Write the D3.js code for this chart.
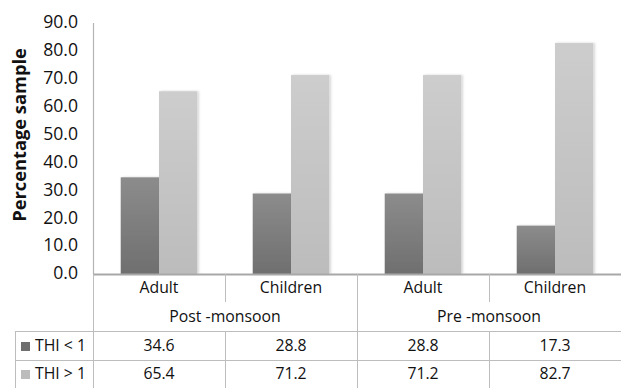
<!DOCTYPE html>
<html>
<head>
<meta charset="utf-8">
<script src="https://cdn.jsdelivr.net/npm/d3@7"></script>
<style>
  html, body { margin: 0; padding: 0; background: #fff; }
  svg { display: block; font-family: "Open Sans", Lato, sans-serif; }
</style>
</head>
<body>
<svg id="chart" width="621" height="388"></svg>
<script>
// Data
const groups = ["Post -monsoon", "Pre -monsoon"];
const categories = ["Adult", "Children", "Adult", "Children"];
const categoryGroup = [0, 0, 1, 1];
const seriesNames = ["THI < 1", "THI > 1"];
const thiBelow = [34.6, 28.8, 28.8, 17.3];
const thiAbove = [65.4, 71.2, 71.2, 82.7];
const yTicks = [0, 10, 20, 30, 40, 50, 60, 70, 80, 90];

const series = [thiBelow, thiAbove];
const svg = d3.select("#chart");

const plotLeft = 93, plotRight = 621, plotTop = 22.5, plotBottom = 274;
const x = d3.scaleBand().domain(d3.range(categories.length)).range([plotLeft, plotRight]);
const y = d3.scaleLinear().domain([0, 90]).range([plotBottom, plotTop]);
const barW = x.bandwidth() * 0.29;
const xs = d3.scaleBand().domain([0, 1]).range([0, barW * 2]).padding(0);

// Gradients for bar fills
const defs = svg.append("defs");
const fills = [["#8c8c8c", "#6f6f6f"], ["#cdcdcd", "#bcbcbc"]];
fills.forEach((c, i) => {
  const g = defs.append("linearGradient").attr("id", "g" + i)
    .attr("x1", 0).attr("y1", 0).attr("x2", 0).attr("y2", 1);
  g.append("stop").attr("offset", 0).attr("stop-color", c[0]);
  g.append("stop").attr("offset", 1).attr("stop-color", c[1]);
});
const shadow = defs.append("filter").attr("id", "sh").attr("x", "-20%").attr("y", "-5%").attr("width", "140%").attr("height", "110%");
shadow.append("feDropShadow").attr("dx", 1.5).attr("dy", 0).attr("stdDeviation", 1)
  .attr("flood-color", "#000").attr("flood-opacity", 0.18);

// Y axis
const yAxis = d3.axisLeft(y).tickValues(yTicks).tickFormat(d3.format(".1f")).tickSize(0).tickPadding(15);
const ya = svg.append("g").attr("transform", `translate(${plotLeft},0)`).call(yAxis);
ya.select(".domain").attr("stroke", "#b4b4b4").attr("stroke-width", 1.2);
ya.selectAll("text").attr("font-size", 17.6).attr("fill", "#111").attr("dy", "0.28em")
  .attr("font-family", "\"Open Sans\", sans-serif");

svg.append("text")
  .attr("transform", `translate(25.5,135) rotate(-90)`)
  .attr("text-anchor", "middle").attr("font-size", 18.3).attr("font-weight", "bold").attr("fill", "#111")
  .attr("font-family", "\"Open Sans\", sans-serif")
  .text("Percentage sample");

// Bars
series.forEach((vals, si) => {
  svg.append("g").selectAll("rect").data(vals).join("rect")
    .attr("x", (d, i) => x(i) + (x.bandwidth() - barW * 2) / 2 + xs(si))
    .attr("y", d => y(d))
    .attr("width", xs.bandwidth())
    .attr("height", d => plotBottom - y(d))
    .attr("fill", `url(#g${si})`)
    .attr("filter", "url(#sh)");
});

// Data table below the plot
const lineColor = "#bdbdbd";
const rowCat = 288, rowGroup = 317, rowLine1 = 331.5, rowLine2 = 360.5;
const rowVals = [346, 374];
const tbl = svg.append("g");
// baseline / top of table
tbl.append("line").attr("x1", plotLeft).attr("x2", plotRight).attr("y1", plotBottom + 0.5).attr("y2", plotBottom + 0.5)
  .attr("stroke", "#a8a8a8").attr("stroke-width", 2);
tbl.append("line").attr("x1", 15).attr("x2", plotRight).attr("y1", rowLine1).attr("y2", rowLine1).attr("stroke", lineColor);
tbl.append("line").attr("x1", 15).attr("x2", plotRight).attr("y1", rowLine2).attr("y2", rowLine2).attr("stroke", lineColor);
tbl.append("line").attr("x1", 15.5).attr("x2", 15.5).attr("y1", rowLine1).attr("y2", 388).attr("stroke", lineColor);
tbl.append("line").attr("x1", plotLeft + 0.5).attr("x2", plotLeft + 0.5).attr("y1", plotBottom).attr("y2", 388).attr("stroke", lineColor);

// vertical dividers between categories
d3.range(1, categories.length).forEach(i => {
  const xv = Math.round(x(i)) + 0.5;
  const groupEdge = categoryGroup[i] !== categoryGroup[i - 1];
  if (groupEdge) {
    tbl.append("line").attr("x1", xv).attr("x2", xv).attr("y1", plotBottom).attr("y2", 388).attr("stroke", lineColor);
  } else {
    tbl.append("line").attr("x1", xv).attr("x2", xv).attr("y1", plotBottom).attr("y2", 302).attr("stroke", lineColor);
    tbl.append("line").attr("x1", xv).attr("x2", xv).attr("y1", rowLine1).attr("y2", 388).attr("stroke", lineColor);
  }
});

const txt = (xp, yp, s, anchor) => tbl.append("text").attr("x", xp).attr("y", yp)
  .attr("text-anchor", anchor || "middle").attr("dy", "0.33em").attr("font-size", 15.8).attr("fill", "#111").text(s);

categories.forEach((c, i) => txt(x(i) + x.bandwidth() / 2, rowCat, c));
groups.forEach((g, gi) => {
  const idx = categoryGroup.map((v, i) => v === gi ? i : -1).filter(i => i >= 0);
  const x0 = x(idx[0]), x1 = x(idx[idx.length - 1]) + x.bandwidth();
  txt((x0 + x1) / 2, rowGroup, g);
});
series.forEach((vals, si) => {
  tbl.append("rect").attr("x", 21).attr("y", rowVals[si] - 4).attr("width", 9).attr("height", 9)
    .attr("fill", fills[si][1]);
  txt(35, rowVals[si], seriesNames[si], "start");
  vals.forEach((v, i) => txt(x(i) + x.bandwidth() / 2, rowVals[si], d3.format(".1f")(v)));
});
</script>
</body>
</html>
